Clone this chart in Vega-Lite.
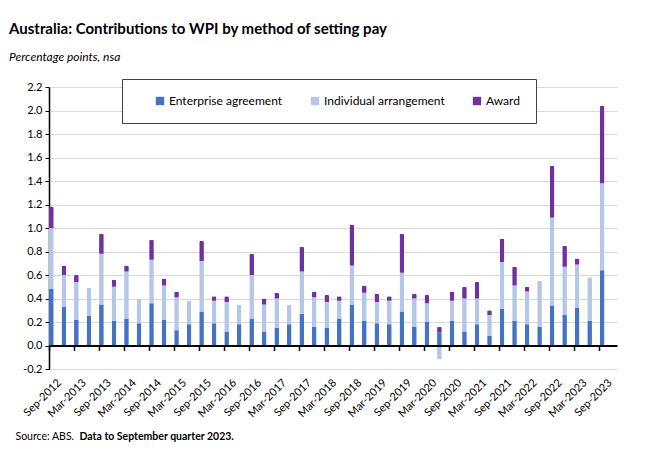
{
  "$schema": "https://vega.github.io/schema/vega-lite/v6.json",
  "width": 568,
  "height": 282,
  "autosize": {"type": "none"},
  "padding": {"left": 49, "top": 87, "right": 33, "bottom": 86},
  "background": "white",
  "config": {"font": "Lato", "view": {"stroke": null}},
  "title": {
    "text": "Australia: Contributions to WPI by method of setting pay",
    "subtitle": "Percentage points, nsa",
    "anchor": "start",
    "frame": "group",
    "dx": -40,
    "offset": 16,
    "fontSize": 15,
    "fontWeight": "bold",
    "color": "black",
    "subtitleFontSize": 12,
    "subtitleFontStyle": "italic",
    "subtitleColor": "black",
    "subtitlePadding": 15
  },
  "data": {
    "values": [
      {"quarter": "Sep-2012", "Enterprise agreement": 0.48, "Individual arrangement": 0.52, "Award": 0.18},
      {"quarter": "Dec-2012", "Enterprise agreement": 0.33, "Individual arrangement": 0.27, "Award": 0.08},
      {"quarter": "Mar-2013", "Enterprise agreement": 0.22, "Individual arrangement": 0.32, "Award": 0.06},
      {"quarter": "Jun-2013", "Enterprise agreement": 0.25, "Individual arrangement": 0.24, "Award": 0},
      {"quarter": "Sep-2013", "Enterprise agreement": 0.35, "Individual arrangement": 0.43, "Award": 0.17},
      {"quarter": "Dec-2013", "Enterprise agreement": 0.21, "Individual arrangement": 0.29, "Award": 0.06},
      {"quarter": "Mar-2014", "Enterprise agreement": 0.23, "Individual arrangement": 0.40, "Award": 0.05},
      {"quarter": "Jun-2014", "Enterprise agreement": 0.19, "Individual arrangement": 0.21, "Award": 0},
      {"quarter": "Sep-2014", "Enterprise agreement": 0.36, "Individual arrangement": 0.37, "Award": 0.17},
      {"quarter": "Dec-2014", "Enterprise agreement": 0.22, "Individual arrangement": 0.29, "Award": 0.06},
      {"quarter": "Mar-2015", "Enterprise agreement": 0.13, "Individual arrangement": 0.28, "Award": 0.05},
      {"quarter": "Jun-2015", "Enterprise agreement": 0.18, "Individual arrangement": 0.20, "Award": 0},
      {"quarter": "Sep-2015", "Enterprise agreement": 0.29, "Individual arrangement": 0.43, "Award": 0.17},
      {"quarter": "Dec-2015", "Enterprise agreement": 0.19, "Individual arrangement": 0.19, "Award": 0.04},
      {"quarter": "Mar-2016", "Enterprise agreement": 0.12, "Individual arrangement": 0.25, "Award": 0.05},
      {"quarter": "Jun-2016", "Enterprise agreement": 0.18, "Individual arrangement": 0.17, "Award": 0},
      {"quarter": "Sep-2016", "Enterprise agreement": 0.23, "Individual arrangement": 0.37, "Award": 0.18},
      {"quarter": "Dec-2016", "Enterprise agreement": 0.12, "Individual arrangement": 0.23, "Award": 0.05},
      {"quarter": "Mar-2017", "Enterprise agreement": 0.15, "Individual arrangement": 0.25, "Award": 0.05},
      {"quarter": "Jun-2017", "Enterprise agreement": 0.18, "Individual arrangement": 0.17, "Award": 0},
      {"quarter": "Sep-2017", "Enterprise agreement": 0.27, "Individual arrangement": 0.36, "Award": 0.21},
      {"quarter": "Dec-2017", "Enterprise agreement": 0.16, "Individual arrangement": 0.25, "Award": 0.05},
      {"quarter": "Mar-2018", "Enterprise agreement": 0.15, "Individual arrangement": 0.22, "Award": 0.06},
      {"quarter": "Jun-2018", "Enterprise agreement": 0.23, "Individual arrangement": 0.15, "Award": 0.04},
      {"quarter": "Sep-2018", "Enterprise agreement": 0.35, "Individual arrangement": 0.33, "Award": 0.35},
      {"quarter": "Dec-2018", "Enterprise agreement": 0.21, "Individual arrangement": 0.24, "Award": 0.06},
      {"quarter": "Mar-2019", "Enterprise agreement": 0.19, "Individual arrangement": 0.18, "Award": 0.07},
      {"quarter": "Jun-2019", "Enterprise agreement": 0.18, "Individual arrangement": 0.20, "Award": 0.04},
      {"quarter": "Sep-2019", "Enterprise agreement": 0.29, "Individual arrangement": 0.33, "Award": 0.33},
      {"quarter": "Dec-2019", "Enterprise agreement": 0.16, "Individual arrangement": 0.24, "Award": 0.04},
      {"quarter": "Mar-2020", "Enterprise agreement": 0.20, "Individual arrangement": 0.16, "Award": 0.07},
      {"quarter": "Jun-2020", "Enterprise agreement": 0.11, "Individual arrangement": -0.12, "Award": 0.05},
      {"quarter": "Sep-2020", "Enterprise agreement": 0.21, "Individual arrangement": 0.17, "Award": 0.08},
      {"quarter": "Dec-2020", "Enterprise agreement": 0.12, "Individual arrangement": 0.28, "Award": 0.10},
      {"quarter": "Mar-2021", "Enterprise agreement": 0.18, "Individual arrangement": 0.22, "Award": 0.14},
      {"quarter": "Jun-2021", "Enterprise agreement": 0.08, "Individual arrangement": 0.18, "Award": 0.04},
      {"quarter": "Sep-2021", "Enterprise agreement": 0.31, "Individual arrangement": 0.40, "Award": 0.20},
      {"quarter": "Dec-2021", "Enterprise agreement": 0.21, "Individual arrangement": 0.30, "Award": 0.16},
      {"quarter": "Mar-2022", "Enterprise agreement": 0.18, "Individual arrangement": 0.28, "Award": 0.04},
      {"quarter": "Jun-2022", "Enterprise agreement": 0.16, "Individual arrangement": 0.39, "Award": 0},
      {"quarter": "Sep-2022", "Enterprise agreement": 0.34, "Individual arrangement": 0.75, "Award": 0.44},
      {"quarter": "Dec-2022", "Enterprise agreement": 0.26, "Individual arrangement": 0.41, "Award": 0.18},
      {"quarter": "Mar-2023", "Enterprise agreement": 0.32, "Individual arrangement": 0.37, "Award": 0.05},
      {"quarter": "Jun-2023", "Enterprise agreement": 0.21, "Individual arrangement": 0.37, "Award": 0},
      {"quarter": "Sep-2023", "Enterprise agreement": 0.64, "Individual arrangement": 0.74, "Award": 0.66}
    ]
  },
  "transform": [
    {"fold": ["Enterprise agreement", "Individual arrangement", "Award"], "as": ["method", "value"]},
    {"calculate": "indexof(['Enterprise agreement', 'Individual arrangement', 'Award'], datum.method)", "as": "stackOrder"}
  ],
  "mark": {"type": "bar", "cornerRadius": 1.5},
  "encoding": {
    "x": {
      "field": "quarter",
      "type": "ordinal",
      "sort": null,
      "scale": {
        "domain": ["Sep-2012", "Dec-2012", "Mar-2013", "Jun-2013", "Sep-2013", "Dec-2013", "Mar-2014", "Jun-2014", "Sep-2014", "Dec-2014", "Mar-2015", "Jun-2015", "Sep-2015", "Dec-2015", "Mar-2016", "Jun-2016", "Sep-2016", "Dec-2016", "Mar-2017", "Jun-2017", "Sep-2017", "Dec-2017", "Mar-2018", "Jun-2018", "Sep-2018", "Dec-2018", "Mar-2019", "Jun-2019", "Sep-2019", "Dec-2019", "Mar-2020", "Jun-2020", "Sep-2020", "Dec-2020", "Mar-2021", "Jun-2021", "Sep-2021", "Dec-2021", "Mar-2022", "Jun-2022", "Sep-2022", "Dec-2022", "Mar-2023", "Jun-2023", "Sep-2023", "pad"],
        "paddingInner": 0.625,
        "paddingOuter": 0
      },
      "axis": {
        "title": "Source: ABS.",
        "titleX": -34,
        "titleY": 93.5,
        "titleAlign": "left",
        "titleBaseline": "alphabetic",
        "titleFontSize": 10.5,
        "titleFontWeight": "normal",
        "titleColor": "black",
        "values": ["Sep-2012", "Mar-2013", "Sep-2013", "Mar-2014", "Sep-2014", "Mar-2015", "Sep-2015", "Mar-2016", "Sep-2016", "Mar-2017", "Sep-2017", "Mar-2018", "Sep-2018", "Mar-2019", "Sep-2019", "Mar-2020", "Sep-2020", "Mar-2021", "Sep-2021", "Mar-2022", "Sep-2022", "Mar-2023", "Sep-2023"],
        "bandPosition": 0,
        "labelAngle": -45,
        "labelAlign": "right",
        "labelBaseline": "top",
        "labelOffset": 4,
        "labelPadding": 26,
        "labelFontSize": 11,
        "labelColor": "black",
        "tickSize": 5,
        "tickColor": "black",
        "tickWidth": 1.5,
        "domainColor": "black",
        "domainWidth": 2,
        "grid": false,
        "offset": -23.5,
        "zindex": 1
      }
    },
    "y": {
      "field": "value",
      "type": "quantitative",
      "stack": "zero",
      "scale": {"domain": [-0.2, 2.2], "nice": false, "zero": false},
      "axis": {
        "title": "Data to September quarter 2023.",
        "titleAngle": 0,
        "titleX": 30,
        "titleY": 352,
        "titleAlign": "left",
        "titleBaseline": "alphabetic",
        "titleFontSize": 10.5,
        "titleFontWeight": "bold",
        "titleColor": "black",
        "values": [-0.2, 0, 0.2, 0.4, 0.6, 0.8, 1.0, 1.2, 1.4, 1.6, 1.8, 2.0, 2.2],
        "format": ".1f",
        "labelExpr": "replace(datum.label, '\u2212', '-')",
        "labelFontSize": 11,
        "labelColor": "black",
        "labelPadding": 3,
        "tickSize": 4,
        "tickColor": "black",
        "domainColor": "black",
        "domainWidth": 1.5,
        "gridColor": "#d9d9d9",
        "gridWidth": 1
      }
    },
    "order": {"field": "stackOrder", "type": "quantitative", "sort": "ascending"},
    "color": {
      "field": "method",
      "type": "nominal",
      "sort": ["Enterprise agreement", "Individual arrangement", "Award"],
      "scale": {
        "domain": ["Enterprise agreement", "Individual arrangement", "Award"],
        "range": ["#4472C4", "#B4C7E7", "#7030A0"]
      },
      "legend": {
        "orient": "none",
        "legendX": 73,
        "legendY": -8,
        "direction": "horizontal",
        "title": "\u00a0",
        "titleOrient": "left",
        "titlePadding": 16,
        "strokeColor": "#404040",
        "fillColor": "white",
        "padding": 16,
        "symbolType": "square",
        "symbolSize": 70,
        "symbolStrokeWidth": 0,
        "labelFontSize": 12,
        "labelColor": "black",
        "labelOffset": 3,
        "columnPadding": 26
      }
    }
  }
}
